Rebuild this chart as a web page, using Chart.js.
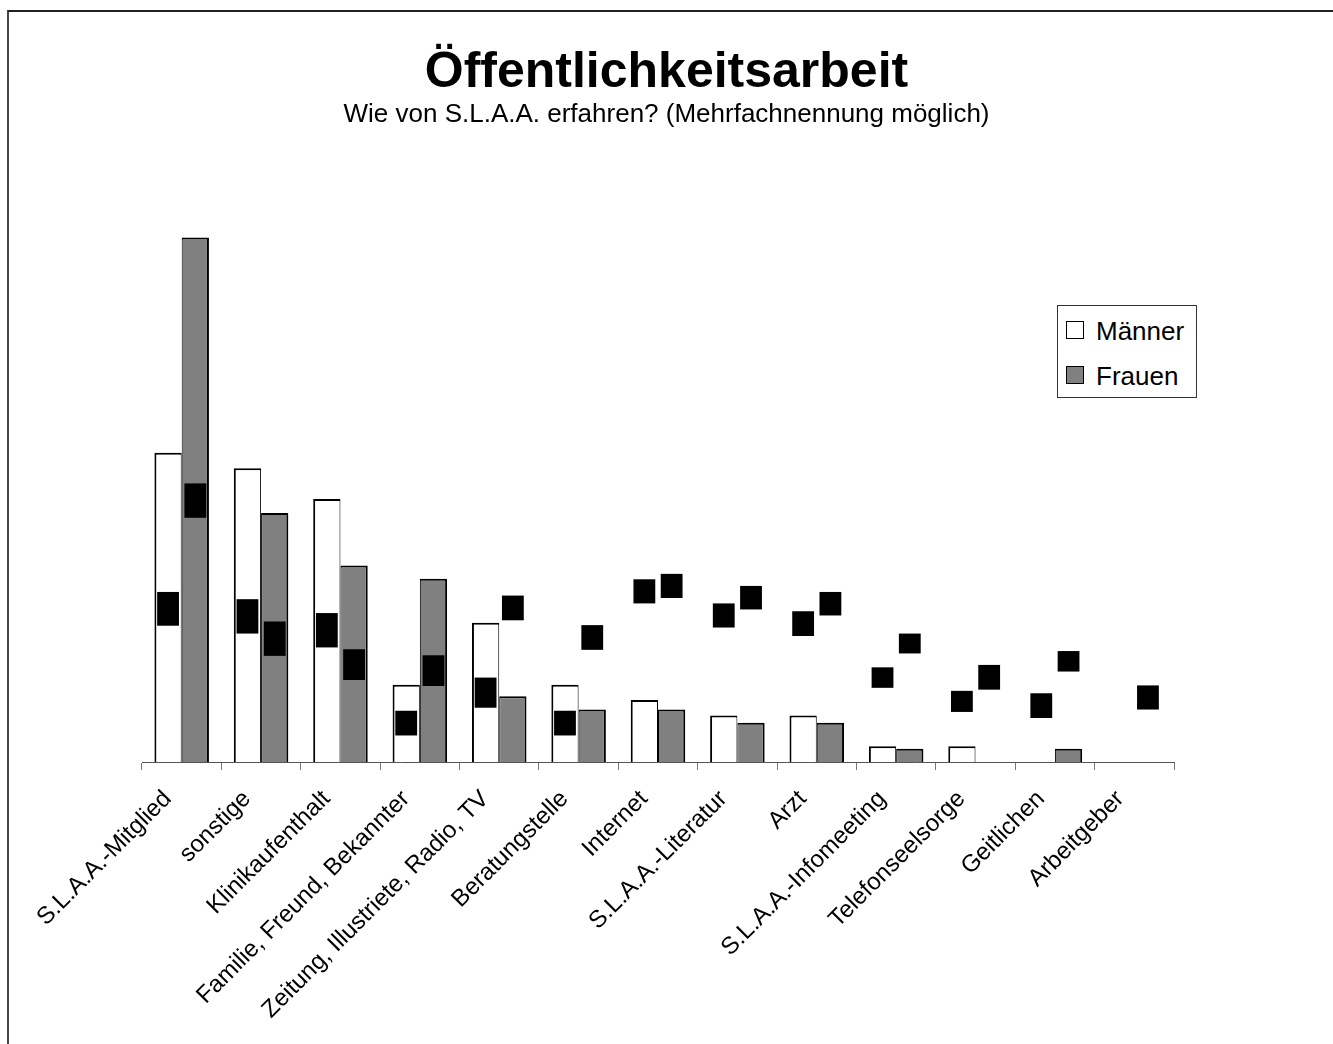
<!DOCTYPE html>
<html><head><meta charset="utf-8">
<script src="https://cdn.jsdelivr.net/npm/chart.js@4.4.1/dist/chart.umd.min.js"></script>
<style>
html,body{margin:0;padding:0;background:#fff;overflow:hidden;width:1333px;height:1044px;}
#frame{position:absolute;left:7px;top:10px;width:1400px;height:1100px;border-top:2px solid #222;border-left:2px solid #444;}
#wrap{position:absolute;left:0;top:0;width:1333px;height:1044px;}
#legend{position:absolute;left:1057px;top:305px;width:138px;height:91px;border:1px solid #333;background:#fff;font-family:'Liberation Sans',Arial,sans-serif;font-size:26px;color:#000;}
.item{position:absolute;left:0;height:26px;line-height:26px;width:138px;}
.sw{position:absolute;left:8px;top:3px;width:16px;height:16px;border:1px solid #000;}
.lt{position:absolute;left:38px;top:0;white-space:nowrap;}
</style></head>
<body>
<div id="frame"></div>
<div id="wrap"><canvas id="c" width="1333" height="1044"></canvas></div>
<div id="legend">
  <div class="item" style="top:12px"><span class="sw" style="background:#fff"></span><span class="lt">Männer</span></div>
  <div class="item" style="top:57px"><span class="sw" style="background:#808080"></span><span class="lt">Frauen</span></div>
</div>
<script>
const categories = ['S.L.A.A.-Mitglied','sonstige','Klinikaufenthalt','Familie, Freund, Bekannter','Zeitung, Illustriete, Radio, TV','Beratungstelle','Internet','S.L.A.A.-Literatur','Arzt','S.L.A.A.-Infomeeting','Telefonseelsorge','Geitlichen','Arbeitgeber'];
const maenner = [51.3, 48.7, 43.6, 12.8, 23.1, 12.8, 10.3, 7.7, 7.7, 2.6, 2.6, 0, 0];
const frauen  = [87.0, 41.3, 32.6, 30.4, 10.9, 8.7, 8.7, 6.5, 6.5, 2.2, 0, 2.2, 0];
// obscured (black) data-label boxes: [bottom, top] in axis units
const maennerLabelBox = [[22.6,28.2],[21.3,27.0],[19.0,24.7],[4.4,8.5],[9.0,14.0],[4.4,8.5],[26.3,30.3],[22.3,26.3],[20.9,25.0],[12.3,15.7],[8.3,11.8],[7.3,11.4],null];
const frauenLabelBox  = [[40.5,46.2],[17.6,23.3],[13.6,18.7],[12.6,17.7],[23.5,27.6],[18.6,22.7],[27.2,31.2],[25.3,29.2],[24.3,28.2],[18.0,21.3],[12.0,16.1],[15.0,18.4],[8.7,12.7]];
const seriesNames = ['Männer','Frauen'];
const titleText = 'Öffentlichkeitsarbeit';
const subtitleText = 'Wie von S.L.A.A. erfahren? (Mehrfachnennung möglich)';

const FONT = "'Liberation Sans', Arial, sans-serif";
const CAT_PCT = 0.687;

new Chart(document.getElementById('c'), {
  type: 'bar',
  data: {
    labels: categories,
    datasets: [
      { label: seriesNames[0], data: maenner, stack: 'm', order: 1,
        backgroundColor: '#ffffff', borderColor: '#000000',
        borderWidth: {top: 2, left: 2, right: 1, bottom: 0},
        categoryPercentage: CAT_PCT, barPercentage: 1.0 },
      { label: seriesNames[1], data: frauen, stack: 'f', order: 1,
        backgroundColor: '#808080', borderColor: '#000000',
        borderWidth: {top: 2, left: 1, right: 2, bottom: 0},
        categoryPercentage: CAT_PCT, barPercentage: 1.0 },
      { label: seriesNames[0] + ' label', data: maennerLabelBox, stack: 'm', order: 0,
        backgroundColor: '#000000', borderWidth: 0,
        categoryPercentage: CAT_PCT, barPercentage: 0.8 },
      { label: seriesNames[1] + ' label', data: frauenLabelBox, stack: 'f', order: 0,
        backgroundColor: '#000000', borderWidth: 0,
        categoryPercentage: CAT_PCT, barPercentage: 0.8 }
    ]
  },
  options: {
    responsive: false,
    animation: false,
    layout: { padding: 0 },
    plugins: {
      legend: { display: false },
      tooltip: { enabled: false },
      title: { display: true, text: titleText, color: '#000',
        font: { family: FONT, size: 50, weight: 'bold', lineHeight: 1.0 },
        padding: { top: 48, bottom: 0 } },
      subtitle: { display: true, text: subtitleText, color: '#000',
        font: { family: FONT, size: 26, weight: 'normal', lineHeight: 1.0 },
        padding: { top: 4, bottom: 31 } }
    },
    scales: {
      x: {
        position: 'bottom',
        offset: true,
        stacked: true,
        grid: { display: true, offset: true, drawOnChartArea: false, drawTicks: true, tickLength: 8, color: '#777', lineWidth: 1 },
        border: { display: true, color: '#555', width: 1 },
        ticks: { autoSkip: false, minRotation: 45, maxRotation: 45, color: '#000', padding: 15, labelOffset: -14,
          font: { family: FONT, size: 24 } },
        afterFit: (s) => { s.height = 282; }
      },
      y: {
        position: 'left', min: 0, max: 100, stacked: false,
        grid: { display: false }, border: { display: false },
        ticks: { display: false },
        afterFit: (s) => { s.width = 142; }
      },
      y2: {
        position: 'right', min: 0, max: 100,
        grid: { display: false }, border: { display: false },
        ticks: { display: false },
        afterFit: (s) => { s.width = 159; }
      }
    }
  }
});
</script>
</body></html>
